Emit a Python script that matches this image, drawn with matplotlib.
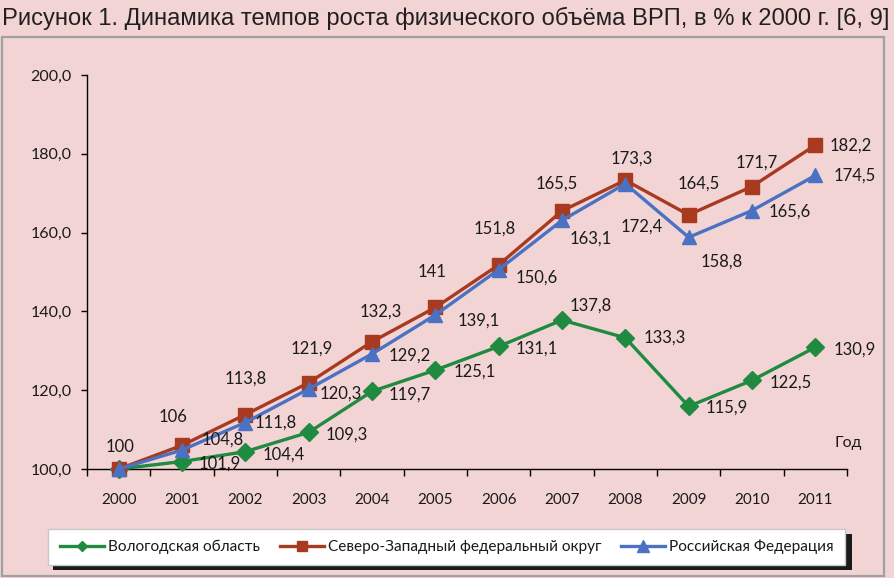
import matplotlib
matplotlib.use('Agg')
import matplotlib.pyplot as plt
from matplotlib import font_manager
from matplotlib.patches import Rectangle
from matplotlib.lines import Line2D

# ---------------- data ----------------
years = ['2000', '2001', '2002', '2003', '2004', '2005',
         '2006', '2007', '2008', '2009', '2010', '2011']
vologda = [100, 101.9, 104.4, 109.3, 119.7, 125.1, 131.1, 137.8, 133.3, 115.9, 122.5, 130.9]
nwfd = [100, 106, 113.8, 121.9, 132.3, 141, 151.8, 165.5, 173.3, 164.5, 171.7, 182.2]
russia = [100, 104.8, 111.8, 120.3, 129.2, 139.1, 150.6, 163.1, 172.4, 158.8, 165.6, 174.5]
series_names = ['Вологодская область', 'Северо-Западный федеральный округ', 'Российская Федерация']
y_ticks = [100, 120, 140, 160, 180, 200]
title_text = 'Рисунок 1. Динамика темпов роста физического объёма ВРП, в % к 2000 г. [6, 9]'
x_axis_label = 'Год'

# label offsets (pixels; left edge of label relative to point, y up)
v_off = [None, (17, -2), (17, -3), (17, -2), (17, -3), (18, -2), (17, -2),
         (8, 14), (18, 0), (17, -1), (18, -2), (18, -2)]
nw_off = [(-13, 22), (-23, 28), (-21, 36), (-18, 34), (-12, 30), (-18, 35), (-25, 36),
          (-26, 27), (-15, 22), (-11, 31), (-16, 24), (14, 0)]
rf_off = [None, (20, 10), (9, 0), (11, -5), (17, -2), (22, -6), (17, -8),
          (8, -18), (-5, -43), (12, -24), (17, -1), (18, 0)]

# ---------------- style ----------------
W, H = 894, 578
BG = '#f2d4d5'
C_V = '#1f8a40'
C_NW = '#a83a20'
C_RF = '#4a71c2'


def has_font(name):
    try:
        font_manager.findfont(font_manager.FontProperties(family=name),
                              fallback_to_default=False)
        return True
    except Exception:
        return False


TXT = ['Lato', 'Open Sans', 'DejaVu Sans']
plt.rcParams['font.family'] = TXT

fig = plt.figure(figsize=(W / 100, H / 100), dpi=100)
fig.patch.set_facecolor(BG)


def fx(px):
    return px / W


def fy(py):
    return 1 - py / H


# outer frame
fig.patches.append(Rectangle((fx(2), fy(576)), fx(884) - fx(2), fy(37) - fy(576),
                             transform=fig.transFigure, fill=False,
                             edgecolor='#a0a0a0', linewidth=1.6, zorder=0))

# title
if has_font('Liberation Sans Narrow'):
    tfam = ['Liberation Sans Narrow', 'DejaVu Sans']
else:
    tfam = ['Liberation Sans', 'DejaVu Sans']
title = fig.text(fx(2), fy(25), title_text, ha='left', va='baseline',
                 fontsize=19, family=tfam, color='#231f20')
fig.canvas.draw()
tw = title.get_window_extent().width
title.set_fontsize(19 * 889 / tw if tw > 0 else 19)

ax = fig.add_axes([fx(87), fy(469), fx(847) - fx(87), fy(75) - fy(469)])
ax.set_facecolor('none')
x = list(range(len(years)))
ax.set_xlim(-0.5, len(years) - 0.5)
ax.set_ylim(100, 200)

for vals, col, mk, ms, name, z in [
        (vologda, C_V, 'D', 9, series_names[0], 3),
        (nwfd, C_NW, 's', 9.5, series_names[1], 4),
        (russia, C_RF, '^', 10.5, series_names[2], 5)]:
    ax.plot(x, vals, color=col, linewidth=2.4, marker=mk, markersize=ms,
            markerfacecolor=col, markeredgecolor=col, clip_on=False, zorder=z,
            label=name)


def fmt(v):
    s = ('%g' % v)
    return s.replace('.', ',')


for vals, offs in [(vologda, v_off), (nwfd, nw_off), (russia, rf_off)]:
    for i, v in enumerate(vals):
        if offs[i] is None:
            continue
        ax.annotate(fmt(v), (x[i], v), xytext=offs[i], textcoords='offset pixels',
                    ha='left', va='center', fontsize=12, color='#1a1a1a',
                    annotation_clip=False, zorder=6)

# axes styling
for s in ['top', 'right']:
    ax.spines[s].set_visible(False)
for s in ['left', 'bottom']:
    ax.spines[s].set_color('#000000')
    ax.spines[s].set_linewidth(1.0)

ax.set_yticks(y_ticks)
ax.set_yticklabels([('%.1f' % t).replace('.', ',') for t in y_ticks])
ax.tick_params(axis='y', direction='out', length=4, width=1, pad=7,
               labelsize=11.5, labelcolor='#1a1a1a')
ax.set_xticks(x)
ax.set_xticklabels(years)
ax.tick_params(axis='x', which='major', length=0, pad=17, labelsize=11,
               labelcolor='#1a1a1a')
ax.set_xticks([i - 0.5 for i in range(len(years) + 1)], minor=True)
ax.tick_params(axis='x', which='minor', direction='out', length=5, width=1)

fig.text(fx(848), fy(443), x_axis_label, ha='center', va='center', fontsize=11.5,
         color='#1a1a1a')

# legend box with shadow
fig.patches.append(Rectangle((fx(53), fy(570)), fx(852) - fx(53), fy(534) - fy(570),
                             transform=fig.transFigure, facecolor='#1a1a1a',
                             edgecolor='none', zorder=1))
fig.patches.append(Rectangle((fx(48), fy(565)), fx(845) - fx(48), fy(529) - fy(565),
                             transform=fig.transFigure, facecolor='white',
                             edgecolor='#c8c8c8', linewidth=1, zorder=2))
handles = [Line2D([], [], color=C_V, lw=2.4, marker='D', ms=5),
           Line2D([], [], color=C_NW, lw=2.4, marker='s', ms=7),
           Line2D([], [], color=C_RF, lw=2.4, marker='^', ms=8)]
leg = fig.legend(handles, series_names, loc='center',
                 bbox_to_anchor=(fx(447), fy(547)), ncol=3, frameon=False,
                 fontsize=11.1, handlelength=2.85, handletextpad=0.26,
                 columnspacing=1.3, borderaxespad=0)
leg.set_zorder(3)
for t in leg.get_texts():
    t.set_color('#1a1a1a')

fig.savefig('out.png', dpi=100, facecolor=BG)
